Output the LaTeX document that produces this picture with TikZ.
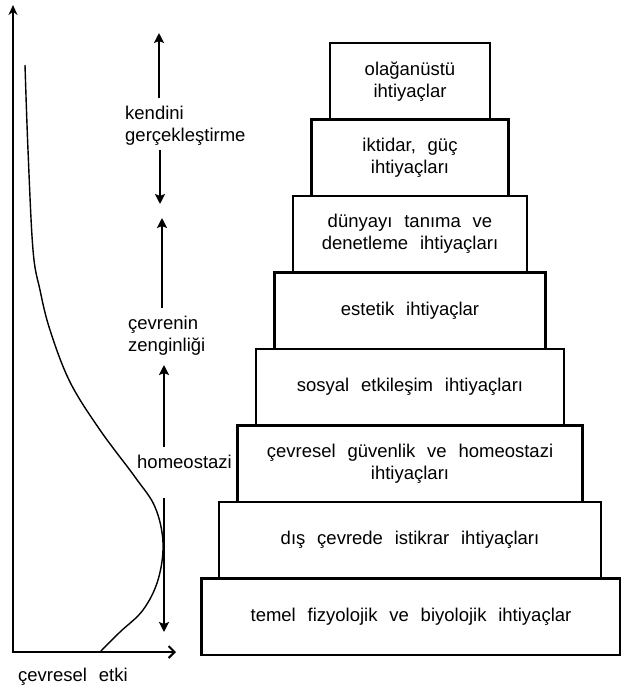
\documentclass[tikz,border=0pt]{standalone}
\usepackage{fontspec}
\setmainfont{Liberation Sans}[WordSpace=2.3]
\usetikzlibrary{arrows.meta}
\usetikzlibrary{positioning}
\tikzset{
    katman/.style = {rectangle, draw=black, line width=2.1pt, align=center, minimum height=76.5pt, inner sep=0pt},
    etiket/.style = {anchor=west, align=left, inner sep=0pt},
    ok/.style = {-{Stealth[length=10pt,width=10pt,inset=2pt]}, line width=2pt},
}

\begin{document}
\begin{tikzpicture}[
	x=1pt, y=-1pt,
	font=\fontsize{18.5}{22}\selectfont
]
\useasboundingbox (0,0) rectangle (621,686);
% piramit
\node[katman, minimum width=160pt] at (410,81.25) (k1) {olağanüstü\\ihtiyaçlar};
\node[katman, minimum width=197pt] at (410,157.75) (k2) {iktidar, güç\\ihtiyaçları};
\node[katman, minimum width=234pt] at (410,234.25) (k3) {dünyayı tanıma ve\\denetleme ihtiyaçları};
\node[katman, minimum width=271pt] at (410,310.75) (k4) {estetik ihtiyaçlar};
\node[katman, minimum width=308pt] at (410,387.25) (k5) {sosyal etkileşim ihtiyaçları};
\node[katman, minimum width=345pt] at (410,463.75) (k6) {çevresel güvenlik ve homeostazi\\ihtiyaçları};
\node[katman, minimum width=382pt] at (410,540.25) (k7) {dış çevrede istikrar ihtiyaçları};
\node[katman, minimum width=419pt] at (411,616.75) (k8) {temel fizyolojik ve biyolojik ihtiyaçlar};
%
\node[etiket] at (125,126) (kg) {kendini\\gerçekleştirme};
\node[etiket] at (128,336) (cz) {çevrenin\\zenginliği};
\node[etiket] at (137,462) (ho) {homeostazi};
\node[etiket] at (18,677) (ce) {çevresel etki};
%
\coordinate (a1) at (159,98);
\coordinate (a1u) at (159,33);
\coordinate (a2) at (160,150);
\coordinate (a2d) at (160,204);
\coordinate (a3) at (162,308);
\coordinate (a3u) at (162,218);
\coordinate (a4) at (164,447);
\coordinate (a4u) at (164,365);
\coordinate (a5) at (164,498);
\coordinate (a5d) at (164,632);
\draw[ok] (a1) -- (a1u);
\draw[ok] (a2) -- (a2d);
\draw[ok] (a3) -- (a3u);
\draw[ok] (a4) -- (a4u);
\draw[ok] (a5) -- (a5d);
% eksenler
\coordinate (o) at (13,652);
\coordinate (yu) at (13,5);
\coordinate (xu) at (176,652);
\draw[line width=2pt, {Stealth[length=10pt,width=9pt]}-{Straight Barb[length=6pt,width=12pt]}] (yu) -- (o) -- (xu);
\draw[line width=1.4pt] plot[smooth, tension=0.6] coordinates {(25,65) (28,150) (33,250) (40,290) (50,330) (70,382) (100,430) (135,477) (155,507) (163,543) (158,580) (143,610) (120,632) (100,652)};
\end{tikzpicture}
\end{document}
